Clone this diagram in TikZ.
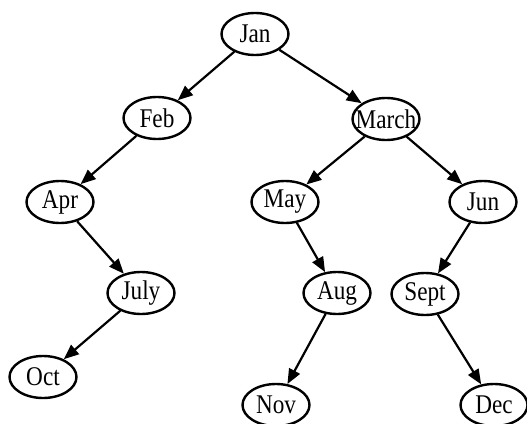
\documentclass[tikz,border=0pt]{standalone}
\usepackage{fontspec}
\setmainfont{Liberation Serif}[FakeStretch=0.86]
\usetikzlibrary{shapes.geometric,arrows.meta}

\tikzset{
  month/.style={draw=black, ellipse, line width=2.4pt, inner sep=0pt,
    minimum width=67pt, minimum height=42pt,
    font=\fontsize{27}{30}\selectfont},
  link/.style={line width=2.2pt, -{Triangle[length=15pt,width=12pt]}}
}

\begin{document}
\begin{tikzpicture}[x=1pt,y=-1pt]
\useasboundingbox (0,0) rectangle (527,423);
\node[month] (jan) at (255,34) {Jan};
\node[month] (feb) at (157,118) {Feb};
\node[month, inner xsep=-10pt] (mar) at (386,119) {March};
\node[month] (apr) at (60,202) {Apr};
\node[month] (may) at (285,202) {May};
\node[month] (jun) at (483,202) {Jun};
\node[month] (jul) at (141,293) {July};
\node[month] (aug) at (337,293) {Aug};
\node[month] (sep) at (425,294) {Sept};
\node[month] (oct) at (43,377) {Oct};
\node[month] (nov) at (276,405) {Nov};
\node[month] (dec) at (494,405) {Dec};
\draw[link] (jan) -- (feb);
\draw[link] (jan) -- (mar);
\draw[link] (feb) -- (apr);
\draw[link] (mar) -- (may);
\draw[link] (mar) -- (jun);
\draw[link] (apr) -- (jul);
\draw[link] (jul) -- (oct);
\draw[link] (may) -- (aug);
\draw[link] (aug) -- (nov);
\draw[link] (jun) -- (sep);
\draw[link] (sep) -- (dec);
\end{tikzpicture}
\end{document}
